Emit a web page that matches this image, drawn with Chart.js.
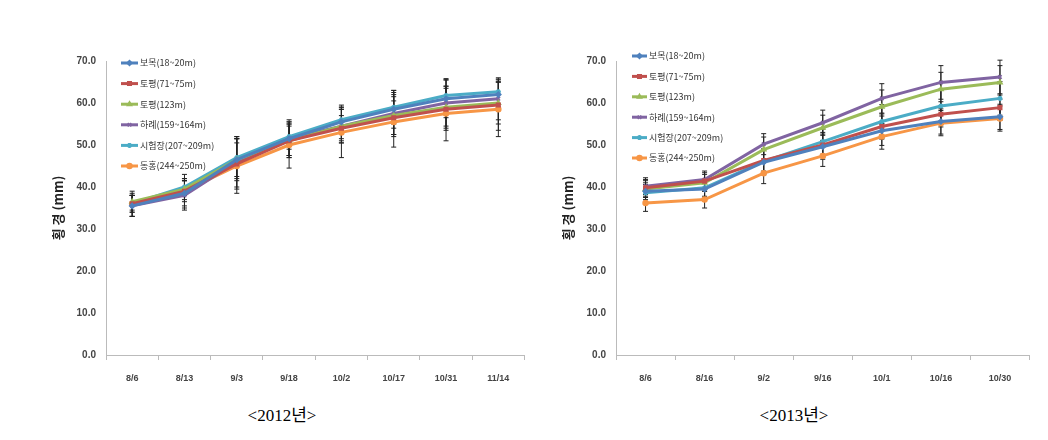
<!DOCTYPE html>
<html><head><meta charset="utf-8">
<script src="https://cdn.jsdelivr.net/npm/chart.js@4/dist/chart.umd.min.js"></script>
<style>
body{margin:0;background:#fff;width:1048px;height:440px;overflow:hidden;position:relative;}
canvas{position:absolute;top:45px;}
#c1{left:40px;}
#c2{left:550px;}
.cap{position:absolute;top:401px;font-family:'Liberation Serif','DejaVu Serif','Noto Sans CJK KR',serif;font-size:17px;color:#000;transform:translateX(-50%);white-space:nowrap;}
</style></head>
<body>
<canvas id="c1" width="490" height="345"></canvas>
<canvas id="c2" width="485" height="345"></canvas>
<div class="cap" style="left:282px">&lt;2012년&gt;</div>
<div class="cap" style="left:794px">&lt;2013년&gt;</div>
<script>
const seriesNames = ['보목(18~20m)','토평(71~75m)','토평(123m)','하례(159~164m)','시험장(207~209m)','동홍(244~250m)'];
const labels2012 = ['8/6','8/13','9/3','9/18','10/2','10/17','10/31','11/14'];
const labels2013 = ['8/6','8/16','9/2','9/16','10/1','10/16','10/30'];
const yTicks = [0,10,20,30,40,50,60,70];

// 2012 series values
const bomok2012   = [35.5,38.5,46.5,51.5,55.5,58.5,61.0,62.0];
const topyeong2012= [36.0,39.0,45.5,51.0,54.0,56.5,58.5,59.5];
const topyeong2_2012=[36.5,39.5,46.5,51.0,54.5,57.0,59.0,60.0];
const harye2012   = [35.5,38.0,46.0,51.5,54.5,57.5,60.0,61.0];
const siheom2012  = [36.0,40.0,47.0,52.0,56.0,59.0,61.8,62.7];
const donghong2012= [36.0,39.0,45.0,50.0,53.0,55.5,57.5,58.5];
// 2012 errors
const bomokErr2012   = [2.5,3,5,4,4,4.5,4.5,3];
const topyeongErr2012= [2,2.5,6,4,3,4,5,6];
const topyeong2Err2012=[2,2.5,4,3.5,4,5,5,5];
const haryeErr2012   = [2.5,3.5,6,4.5,4,5,5.5,5];
const siheomErr2012  = [2,2,5,3,3,4,4,3];
const donghongErr2012= [3,4,6.5,5.5,6,6,6.5,6.5];

// 2013 series values
const bomok2013   = [39.0,39.5,45.9,49.6,53.4,55.6,56.7];
const topyeong2013= [39.8,41.4,46.3,50.0,54.4,57.3,58.9];
const topyeong2_2013=[39.5,41.0,48.9,54.1,59.1,63.3,64.9];
const harye2013   = [40.2,41.8,50.2,55.3,61.1,64.9,66.2];
const siheom2013  = [38.6,39.8,46.1,50.8,55.6,59.3,61.1];
const donghong2013= [36.2,37.0,43.3,47.4,52.0,55.2,56.3];
// 2013 errors
const bomokErr2013   = [2,2,3,3,3.5,3,3];
const topyeongErr2013= [2,2,2.5,3,3,3,3];
const topyeong2Err2013=[2,2,3,3,4,4,4];
const haryeErr2013   = [2,2,2.5,3,3.5,4,4];
const siheomErr2013  = [2,2,3,3,4,4,4];
const donghongErr2013= [2,2,2.5,2.5,3,3,3];

const colors = ['#4F81BD','#C0504D','#9BBB59','#8064A2','#4BACC6','#F79646'];
const markers = ['rectRot','rect','triangle','crossRot','star','circle'];

function drawMarker(ctx, style, x, y, r, color){
  ctx.save();
  ctx.fillStyle=color; ctx.strokeStyle=color; ctx.lineWidth=1.5;
  if (Chart.helpers && Chart.helpers.drawPoint){
    Chart.helpers.drawPoint(ctx,{pointStyle:style,radius:r,borderWidth:1.5,rotation:0},x,y);
    ctx.fill();
  } else {
    ctx.beginPath(); ctx.arc(x,y,r,0,Math.PI*2); ctx.fill();
  }
  ctx.restore();
}

const errorBarPlugin = {
  id:'errbars',
  beforeDatasetsDraw(chart){
    const ctx=chart.ctx, ys=chart.scales.y;
    const errs = chart.options.plugins.errbars.errors;
    ctx.save();
    ctx.strokeStyle='#222'; ctx.lineWidth=1;
    chart.data.datasets.forEach((ds,di)=>{
      const meta=chart.getDatasetMeta(di);
      meta.data.forEach((pt,i)=>{
        const v=ds.data[i], e=errs[di][i];
        const yt=ys.getPixelForValue(v+e), yb=ys.getPixelForValue(v-e);
        const x=pt.x;
        ctx.beginPath();
        ctx.moveTo(x,yt); ctx.lineTo(x,yb);
        ctx.moveTo(x-2.5,yt); ctx.lineTo(x+2.5,yt);
        ctx.moveTo(x-2.5,yb); ctx.lineTo(x+2.5,yb);
        ctx.stroke();
      });
    });
    ctx.restore();
  }
};

const legendPlugin = {
  id:'inlegend',
  afterDraw(chart){
    const o=chart.options.plugins.inlegend;
    const ctx=chart.ctx;
    ctx.save();
    ctx.font='9px "Noto Sans CJK KR", sans-serif';
    ctx.textBaseline='middle';
    chart.data.datasets.forEach((ds,i)=>{
      const y=o.y0+i*o.dy;
      ctx.strokeStyle=ds.borderColor; ctx.lineWidth=3;
      ctx.beginPath(); ctx.moveTo(o.x0,y); ctx.lineTo(o.x1,y); ctx.stroke();
      drawMarker(ctx, ds.pointStyle, (o.x0+o.x1)/2, y, 2.5, ds.borderColor);
      ctx.fillStyle='#333';
      ctx.fillText(ds.label, o.x1+2, y);
    });
    ctx.restore();
  }
};

function makeDatasets(vals){
  return vals.map((d,i)=>({
    label:seriesNames[i], data:d, borderColor:colors[i], backgroundColor:colors[i],
    borderWidth:3, pointStyle:markers[i], pointRadius:2.5, pointBorderWidth:1.5, tension:0
  }));
}

function makeChart(id, labels, vals, errs, padTop, legendCfg){
  return new Chart(document.getElementById(id),{
    type:'line',
    data:{labels:labels, datasets:makeDatasets(vals)},
    options:{
      responsive:false, animation:false,
      layout:{padding:{top:padTop,right:4,left:0,bottom:0}},
      plugins:{legend:{display:false}, tooltip:{enabled:false},
        errbars:{errors:errs}, inlegend:legendCfg},
      scales:{
        x:{
          offset:true,
          grid:{offset:true, drawOnChartArea:false, drawTicks:true, tickLength:5, color:'#bbb'},
          border:{color:'#bbb', width:1},
          ticks:{padding:13, color:'#444', font:{size:9, family:'Liberation Sans', weight:'bold'}, maxRotation:0, autoSkip:false},
          afterFit(s){ s.height=35; }
        },
        y:{
          min:0, max:70,
          afterBuildTicks(s){ s.ticks = yTicks.map(v=>({value:v})); },
          grid:{drawOnChartArea:false, drawTicks:false},
          border:{color:'#bbb', width:1},
          ticks:{padding:10, color:'#444', font:{size:10, family:'Liberation Sans', weight:'bold'}, callback:v=>Number(v).toFixed(1)},
          title:{display:true, text:'횡 경 (mm)', color:'#222', font:{size:13, weight:'bold', family:'"Noto Sans CJK KR"'}, padding:{top:10,bottom:0}},
          afterFit(s){ s.width=66; }
        }
      }
    },
    plugins:[errorBarPlugin, legendPlugin]
  });
}

makeChart('c1', labels2012,
  [bomok2012,topyeong2012,topyeong2_2012,harye2012,siheom2012,donghong2012],
  [bomokErr2012,topyeongErr2012,topyeong2Err2012,haryeErr2012,siheomErr2012,donghongErr2012],
  12, {x0:81, x1:98, y0:18, dy:20.6});
makeChart('c2', labels2013,
  [bomok2013,topyeong2013,topyeong2_2013,harye2013,siheom2013,donghong2013],
  [bomokErr2013,topyeongErr2013,topyeong2Err2013,haryeErr2013,siheomErr2013,donghongErr2013],
  14, {x0:82, x1:97, y0:11, dy:20.4});
</script>
</body></html>
